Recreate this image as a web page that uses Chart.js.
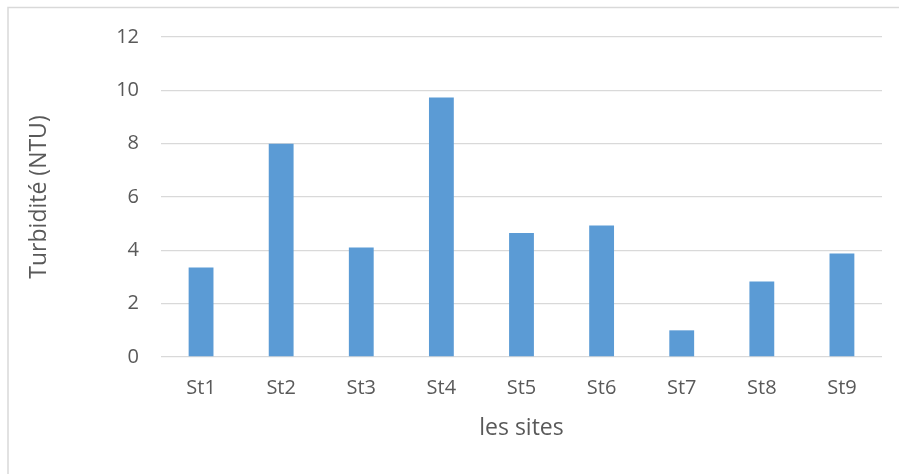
<!DOCTYPE html>
<html>
<head>
<meta charset="utf-8">
<script src="https://cdn.jsdelivr.net/npm/chart.js@4"></script>
<style>
  html, body { margin: 0; padding: 0; background: #fff; }
  #wrap { width: 899px; height: 474px; position: relative; }
</style>
</head>
<body>
<div id="wrap"><canvas id="turbChart"></canvas></div>
<script>
/* Turbidité par site — histogramme */
var sites = ['St1', 'St2', 'St3', 'St4', 'St5', 'St6', 'St7', 'St8', 'St9'];
var turbidite = [3.36, 8.0, 4.11, 9.73, 4.65, 4.93, 1.0, 2.83, 3.88];
var yTicks = [0, 2, 4, 6, 8, 10, 12];

var FONT = "'Open Sans', sans-serif";
var TXT = '#595959';

// cadre gris clair (haut et gauche seulement, comme la capture)
var cadre = {
    id: 'cadre',
    beforeDraw: function (chart) {
        var c = chart.ctx;
        c.save();
        c.fillStyle = '#fff';
        c.fillRect(0, 0, chart.width, chart.height);
        c.strokeStyle = '#d9d9d9';
        c.lineWidth = 1.5;
        c.beginPath();
        c.moveTo(8, chart.height);
        c.lineTo(8, 7.5);
        c.lineTo(chart.width, 7.5);
        c.stroke();
        c.restore();
    }
};

new Chart(document.getElementById('turbChart').getContext('2d'), {
    type: 'bar',
    data: {
        labels: sites,
        datasets: [{
            label: 'Turbidité (NTU)',
            data: turbidite,
            backgroundColor: '#5b9bd5',
            borderWidth: 0,
            barPercentage: 0.31,
            categoryPercentage: 1.0
        }]
    },
    options: {
        responsive: true,
        maintainAspectRatio: false,
        animation: false,
        layout: { padding: { left: 0, right: 17, top: 37, bottom: 0 } },
        plugins: { legend: { display: false }, tooltip: { enabled: false } },
        scales: {
            x: {
                afterFit: function (axis) { axis.height = 117; },
                grid: { display: false, drawTicks: false },
                border: { display: false },
                ticks: { color: TXT, font: { family: FONT, size: 20 }, padding: 19 },
                title: { display: true, text: 'les sites', color: TXT, font: { family: FONT, size: 23 }, padding: { top: 0, bottom: 32 } }
            },
            y: {
                min: 0,
                max: 12,
                afterFit: function (axis) { axis.width = 161; },
                afterBuildTicks: function (axis) {
                    axis.ticks = yTicks.map(function (v) { return { value: v }; });
                },
                grid: { color: '#d9d9d9', lineWidth: 1.3, drawTicks: false },
                border: { display: false },
                ticks: { color: TXT, font: { family: FONT, size: 20 }, padding: 22 },
                title: { display: true, text: 'Turbidité (NTU)', color: TXT, font: { family: FONT, size: 23 }, padding: { top: 26, bottom: 0 } }
            }
        }
    },
    plugins: [cadre]
});
</script>
</body>
</html>
